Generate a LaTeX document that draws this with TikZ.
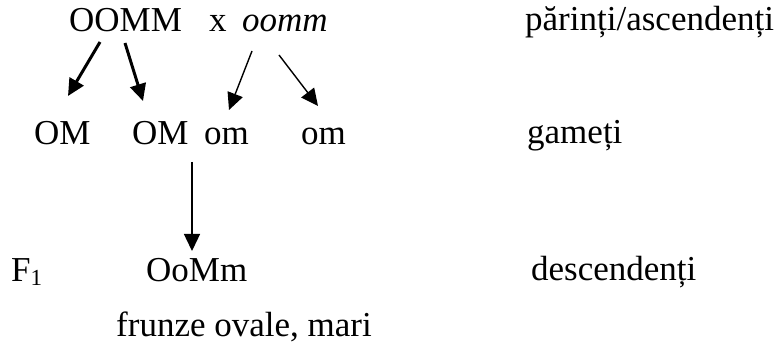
\documentclass[tikz,border=0pt]{standalone}
\usepackage{fontspec}
\setmainfont{Liberation Serif}
\usetikzlibrary{arrows.meta}
\begin{document}
\begin{tikzpicture}[x=1pt,y=-1pt,
	lbl/.style={anchor=base west,inner sep=0pt,font=\fontsize{35}{40}\selectfont},
	bigarrow/.style={line width=3pt,-{Triangle[length=17pt,width=16pt]}},
	smallarrow/.style={line width=1.4pt,-{Triangle[length=17pt,width=16pt]}}]
	\useasboundingbox (0,0) rectangle (776,347);
	% parents
	\node[lbl] (OOMM) at (69,32) {OOMM};
	\node[lbl] (cross) at (209,32) {x};
	\node[lbl] (oomm) at (242,32) {\textit{oomm}};
	\node[lbl] (parents) at (525,31) {părinți/ascendenți};
	% gametes
	\node[lbl] (gOMa) at (34,145) {OM};
	\node[lbl] (gOMb) at (132,145) {OM};
	\node[lbl] (gOMc) at (204,145) {om};
	\node[lbl] (gOMd) at (301,145) {om};
	\node[lbl] (gametes) at (527,144) {gameți};
	% F1
	\node[lbl] (Fone) at (11,281) {F\raisebox{-5pt}{\fontsize{23}{24}\selectfont 1}};
	\node[lbl] (OoMm) at (146,282) {OoMm};
	\node[lbl] (offspring) at (531,280) {descendenți};
	\node[lbl] (leaves) at (116,336) {frunze ovale, mari};
	% arrow ends
	\coordinate (a1) at (100,42);  \coordinate (b1) at (68,96);
	\coordinate (a2) at (125,43);  \coordinate (b2) at (143,101);
	\coordinate (a3) at (252,51);  \coordinate (b3) at (229,110);
	\coordinate (a4) at (279,55);  \coordinate (b4) at (318,106);
	\coordinate (a5) at (192,162); \coordinate (b5) at (192,251);
	\draw[bigarrow] (a1) -- (b1);
	\draw[bigarrow] (a2) -- (b2);
	\draw[smallarrow] (a3) -- (b3);
	\draw[smallarrow] (a4) -- (b4);
	\draw[smallarrow] (a5) -- (b5);
\end{tikzpicture}
\end{document}
